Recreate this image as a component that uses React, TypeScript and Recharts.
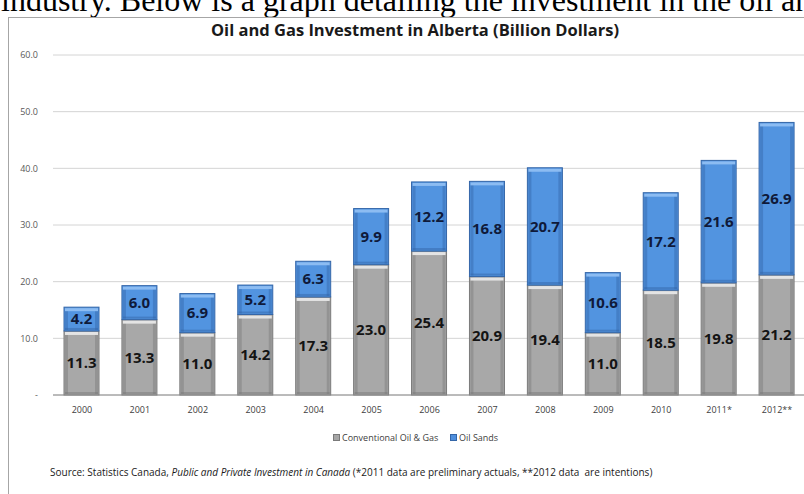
import { BarChart, Bar, XAxis, YAxis, CartesianGrid, LabelList } from "recharts";

const years = ["2000", "2001", "2002", "2003", "2004", "2005", "2006", "2007", "2008", "2009", "2010", "2011*", "2012**"];
const conventional = [11.3, 13.3, 11.0, 14.2, 17.3, 23.0, 25.4, 20.9, 19.4, 11.0, 18.5, 19.8, 21.2];
const oilSands = [4.2, 6.0, 6.9, 5.2, 6.3, 9.9, 12.2, 16.8, 20.7, 10.6, 17.2, 21.6, 26.9];
const yTicks = [0, 10, 20, 30, 40, 50, 60];

const data = years.map((year, i) => ({ year, conventional: conventional[i], oilSands: oilSands[i] }));

const font = "'Open Sans', sans-serif";

function BevelBar(props: any) {
  const { x, y, width, height, edge, light, fill } = props;
  if (!height || height <= 0) return null;
  return (
    <g>
      <rect x={x} y={y} width={width} height={height} fill={fill} stroke={edge} strokeWidth={1} />
      <rect x={x + 1} y={y + 1} width={3} height={height - 2} fill={edge} opacity={0.45} />
      <rect x={x + width - 4} y={y + 1} width={3} height={height - 2} fill={edge} opacity={0.45} />
      <rect x={x + 1} y={y + 1} width={width - 2} height={3} fill={light} />
      <rect x={x + 1} y={y + height - 3} width={width - 2} height={2} fill={edge} opacity={0.5} />
    </g>
  );
}

const fmt = (v: any) => Number(v).toFixed(1);

export default function App() {
  return (
    <div style={{ position: "fixed", left: 0, top: 0, width: 804, height: 494, overflow: "hidden", background: "#fff" }}>
      <div
        style={{
          position: "absolute",
          left: 1,
          top: -16,
          fontFamily: "'Liberation Serif', serif",
          fontSize: 32,
          lineHeight: "32px",
          whiteSpace: "nowrap",
          color: "#000",
        }}
      >
        industry. Below is a graph detailing the investment in the oil and gas
      </div>
      <div
        style={{
          position: "absolute",
          left: 8,
          top: 17,
          width: 830,
          height: 520,
          border: "1px solid #a6a6a6",
          boxSizing: "border-box",
        }}
      />
      <div
        style={{
          position: "absolute",
          left: 415,
          top: 18,
          transform: "translateX(-50%)",
          whiteSpace: "nowrap",
          fontFamily: font,
          fontWeight: 700,
          fontSize: 16.5,
          color: "#1a1a1a",
        }}
      >
        Oil and Gas Investment in Alberta (Billion Dollars)
      </div>
      <div style={{ position: "absolute", left: 0, top: 0 }}>
        <BarChart width={810} height={494} data={data} margin={{ top: 55, right: 4, left: 0, bottom: 69 }} barSize={35}>
          <CartesianGrid vertical={false} stroke="#d4d4d4" />
          <XAxis
            dataKey="year"
            height={30}
            stroke="#8c8c8c"
            tickLine={false}
            tick={{ fontSize: 9, fill: "#404040", fontFamily: font }}
            tickMargin={6}
          />
          <YAxis
            width={53}
            domain={[0, 60]}
            ticks={yTicks}
            axisLine={false}
            tickLine={false}
            tickMargin={9}
            tick={{ fontSize: 9, fill: "#595959", fontFamily: font }}
            tickFormatter={(v: number) => (v === 0 ? "-" : v.toFixed(1))}
          />
          <Bar
            dataKey="conventional"
            name="Conventional Oil & Gas"
            stackId="a"
            isAnimationActive={false}
            fill="#a6a6a6"
            shape={(p: any) => <BevelBar {...p} fill="#a8a8a8" edge="#7a7a7a" light="#e4e4e4" />}
          >
            <LabelList dataKey="conventional" position="center" formatter={fmt} fill="#141414" fontSize={15} fontWeight={700} fontFamily={font} />
          </Bar>
          <Bar
            dataKey="oilSands"
            name="Oil Sands"
            stackId="a"
            isAnimationActive={false}
            fill="#4f8fdd"
            shape={(p: any) => <BevelBar {...p} fill="#5294e0" edge="#3466a8" light="#8cbcf2" />}
          >
            <LabelList dataKey="oilSands" position="center" formatter={fmt} fill="#0f1a3a" fontSize={15} fontWeight={700} fontFamily={font} />
          </Bar>
        </BarChart>
      </div>
      <div
        style={{
          position: "absolute",
          top: 431,
          left: 0,
          fontFamily: font,
          fontSize: 9,
          color: "#404040",
          whiteSpace: "nowrap",
        }}
      >
        <span style={{ position: "absolute", left: 333, display: "flex", alignItems: "center" }}>
          <span style={{ width: 5, height: 5, background: "#a6a6a6", border: "1px solid #7a7a7a", marginRight: 2 }} />
          Conventional Oil &amp; Gas
        </span>
        <span style={{ position: "absolute", left: 450, display: "flex", alignItems: "center" }}>
          <span style={{ width: 5, height: 5, background: "#4f8fdd", border: "1px solid #3466a8", marginRight: 2 }} />
          Oil Sands
        </span>
      </div>
      <div
        style={{
          position: "absolute",
          top: 465,
          left: 50,
          fontFamily: font,
          fontSize: 10,
          color: "#1a1a1a",
          whiteSpace: "nowrap",
        }}
      >
        Source: Statistics Canada, <i>Public and Private Investment in Canada</i> (*2011 data are preliminary actuals, **2012 data&nbsp; are intentions)
      </div>
    </div>
  );
}
